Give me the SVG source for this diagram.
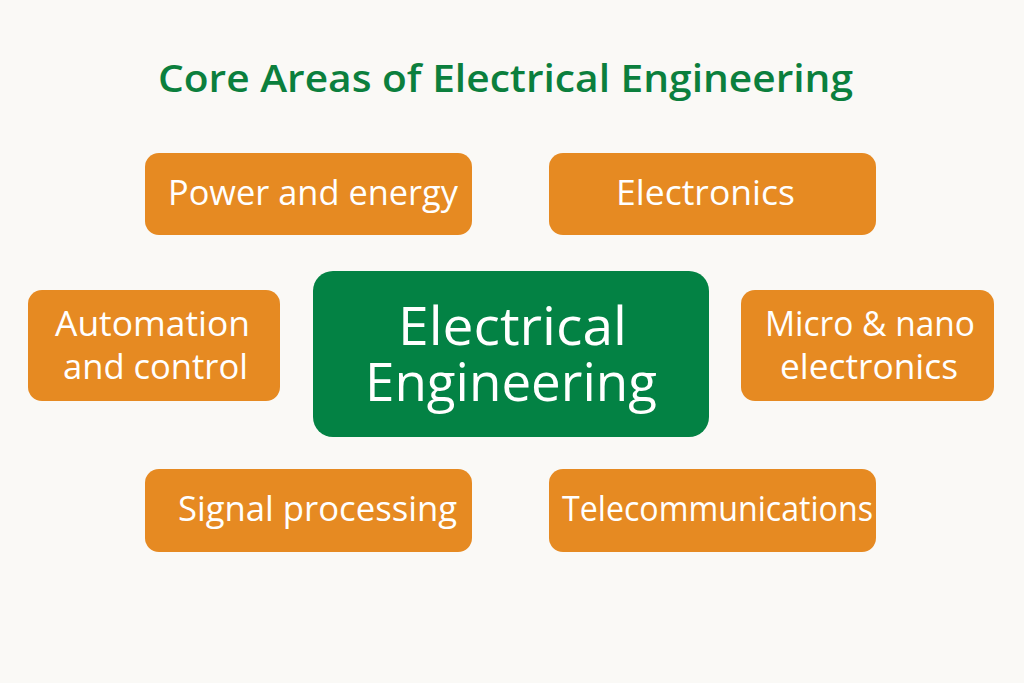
<svg xmlns="http://www.w3.org/2000/svg" width="1024" height="683" viewBox="0 0 1024 683">
<style>
.bg{fill:#FAF9F6}
.area rect{fill:#E68A22}
.core rect{fill:#038244}
text{font-family:"Open Sans","Lato","Liberation Sans",sans-serif;fill:#FFFFFF;text-anchor:middle}
.lbl{font-size:34px}
.big{font-size:53px}
.title{font-size:38px;font-weight:600;fill:#0B7F3D}
</style>
<rect class="bg" x="0" y="0" width="1024" height="683"/>
<text class="title" x="505.5" y="92" textLength="695" lengthAdjust="spacingAndGlyphs">Core Areas of Electrical Engineering</text>
<g id="connectors"></g>
<g id="power" class="area"><rect x="145" y="153" width="327" height="82" rx="14"/><text class="lbl" x="313" y="205" textLength="290" lengthAdjust="spacingAndGlyphs">Power and energy</text></g>
<g id="electronics" class="area"><rect x="549" y="153" width="327" height="82" rx="14"/><text class="lbl" x="705.5" y="205" textLength="179" lengthAdjust="spacingAndGlyphs">Electronics</text></g>
<g id="automation" class="area"><rect x="28" y="290" width="252" height="111" rx="14"/><text class="lbl" x="152.5" y="336" textLength="195" lengthAdjust="spacingAndGlyphs">Automation</text><text class="lbl" x="155.5" y="379" textLength="185" lengthAdjust="spacingAndGlyphs">and control</text></g>
<g id="core" class="core"><rect x="313" y="271" width="396" height="166" rx="20"/><text class="big" x="512.5" y="345" textLength="229" lengthAdjust="spacingAndGlyphs">Electrical</text><text class="big" x="511" y="401" textLength="292" lengthAdjust="spacingAndGlyphs">Engineering</text></g>
<g id="micro" class="area"><rect x="741" y="290" width="253" height="111" rx="14"/><text class="lbl" x="870" y="336" textLength="210" lengthAdjust="spacingAndGlyphs">Micro &amp; nano</text><text class="lbl" x="869" y="379" textLength="178" lengthAdjust="spacingAndGlyphs">electronics</text></g>
<g id="signal" class="area"><rect x="145" y="469" width="327" height="83" rx="14"/><text class="lbl" x="317.5" y="521" textLength="279" lengthAdjust="spacingAndGlyphs">Signal processing</text></g>
<g id="telecom" class="area"><rect x="549" y="469" width="327" height="83" rx="14"/><text class="lbl" x="717.5" y="521" textLength="311" lengthAdjust="spacingAndGlyphs">Telecommunications</text></g>
</svg>
